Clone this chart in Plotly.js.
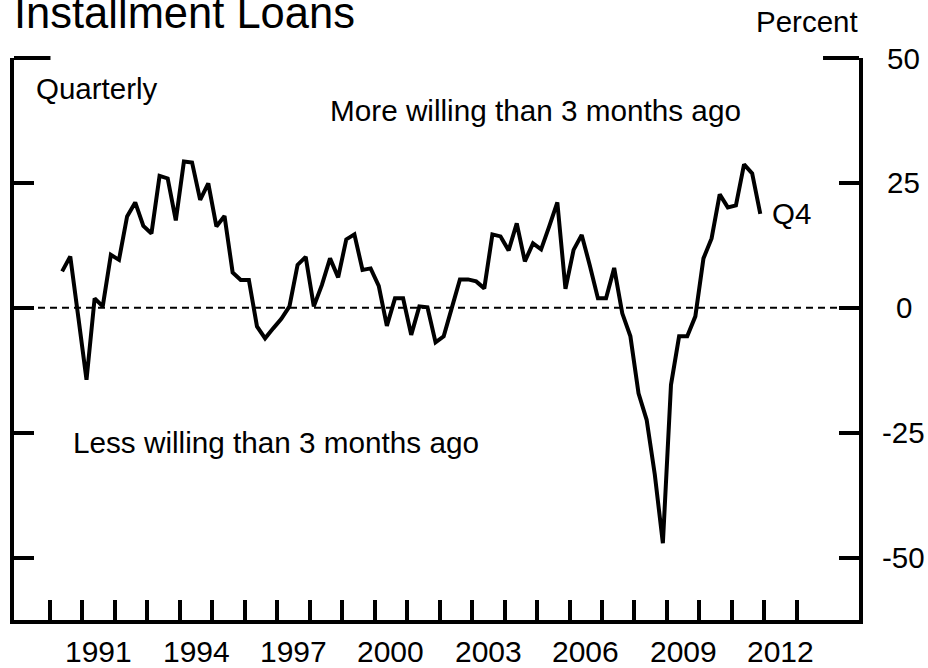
<!DOCTYPE html>
<html>
<head>
<meta charset="utf-8">
<script src="https://cdn.plot.ly/plotly-3.0.1.min.js"></script>
<style>
  html, body { margin: 0; padding: 0; background: #fff; }
  #chart { width: 928px; height: 668px; }
</style>
</head>
<body>
<div id="chart"></div>
<script>
// ---- Data ----
const quarters = [
  "1990Q2","1990Q3","1990Q4",
  "1991Q1","1991Q2","1991Q3","1991Q4",
  "1992Q1","1992Q2","1992Q3","1992Q4",
  "1993Q1","1993Q2","1993Q3","1993Q4",
  "1994Q1","1994Q2","1994Q3","1994Q4",
  "1995Q1","1995Q2","1995Q3","1995Q4",
  "1996Q1","1996Q2","1996Q3","1996Q4",
  "1997Q1","1997Q2","1997Q3","1997Q4",
  "1998Q1","1998Q2","1998Q3","1998Q4",
  "1999Q1","1999Q2","1999Q3","1999Q4",
  "2000Q1","2000Q2","2000Q3","2000Q4",
  "2001Q1","2001Q2","2001Q3","2001Q4",
  "2002Q1","2002Q2","2002Q3","2002Q4",
  "2003Q1","2003Q2","2003Q3","2003Q4",
  "2004Q1","2004Q2","2004Q3","2004Q4",
  "2005Q1","2005Q2","2005Q3","2005Q4",
  "2006Q1","2006Q2","2006Q3","2006Q4",
  "2007Q1","2007Q2","2007Q3","2007Q4",
  "2008Q1","2008Q2","2008Q3","2008Q4",
  "2009Q1","2009Q2","2009Q3","2009Q4",
  "2010Q1","2010Q2","2010Q3","2010Q4",
  "2011Q1","2011Q2","2011Q3","2011Q4"
];
const netPercent = [
  7.3, 10.3, -2.0,
  -14.4, 1.9, 0.3, 10.6,
  9.6, 18.3, 21.1, 16.4,
  14.9, 26.4, 25.9, 17.5,
  29.3, 29.1, 21.6, 24.9,
  16.3, 18.4, 7.1, 5.6,
  5.6, -3.7, -6.1, -4.1,
  -2.2, 0.3, 8.6, 10.2,
  0.3, 4.6, 9.9, 6.1,
  13.7, 14.7, 7.6, 7.9,
  4.4, -3.6, 1.9, 1.9,
  -5.4, 0.3, 0.1, -6.9,
  -5.7, 0.0, 5.7, 5.7,
  5.3, 3.9, 14.7, 14.3,
  11.5, 16.9, 9.3, 12.9,
  11.7, 16.3, 21.1, 3.8,
  11.6, 14.6, 8.5, 1.9,
  1.9, 8.0, -1.1, -5.7,
  -17.1, -22.4, -33.3, -47.1,
  -15.4, -5.7, -5.7, -1.7,
  9.9, 13.9, 22.7, 20.1,
  20.5, 28.7, 26.9, 18.8
];
const yearTicks = [1990,1991,1992,1993,1994,1995,1996,1997,1998,1999,2000,2001,
                   2002,2003,2004,2005,2006,2007,2008,2009,2010,2011,2012,2013];
const yearLabels = [1991,1994,1997,2000,2003,2006,2009,2012];
const yTicks = [-50,-25,0,25,50];

// ---- Build positions: mid-quarter decimal year ----
const xPos = quarters.map(q => {
  const yr = parseInt(q.slice(0,4), 10);
  const qn = parseInt(q.slice(5), 10);
  return yr + (qn - 1) / 4 + 0.125;
});

const FONT = "Liberation Sans, Arial, Helvetica, sans-serif";
const FS = 29.5;

// plot-area geometry (pixels)
const L = 13.5, R = 859, T = 58, B = 619.7;
const W = 928, H = 668;
const px = x => (x - L) / (R - L);
const py = y => (B - y) / (B - T);

const xRange = [1988.892, 2014.915];
const yRange = [-62.46, 50];

const traces = [{
  type: "scatter",
  mode: "lines",
  x: xPos,
  y: netPercent,
  line: { color: "#000", width: 4, simplify: false },
  hoverinfo: "skip",
  showlegend: false
}];

const annotations = [
  { text: "Quarterly", x: px(34), y: py(88), xanchor: "left", yanchor: "middle" },
  { text: "More willing than 3 months ago", x: px(328), y: py(110), xanchor: "left", yanchor: "middle", font: { family: FONT, size: 29.7, color: "#000" } },
  { text: "Less willing than 3 months ago", x: px(71), y: py(442), xanchor: "left", yanchor: "middle", font: { family: FONT, size: 29.7, color: "#000" } },
  { text: "Q4", x: px(770), y: py(213), xanchor: "left", yanchor: "middle" },
  { text: "Percent", x: px(807), y: py(22), xanchor: "center", yanchor: "middle" }
].map(a => Object.assign({ xref: "paper", yref: "paper", showarrow: false,
  font: { family: FONT, size: FS, color: "#000" } }, a));

// right-hand value labels, centred like the reference
yTicks.forEach(v => {
  annotations.push({
    text: String(v), x: px(904), xref: "paper", y: v, yref: "y",
    xanchor: "center", yanchor: "middle", showarrow: false,
    font: { family: FONT, size: FS, color: "#000" }
  });
});

// year labels centred within each year
yearLabels.forEach(yr => {
  annotations.push({
    text: String(yr), x: yr + 0.5, xref: "x", y: py(651), yref: "paper",
    xanchor: "center", yanchor: "middle", showarrow: false,
    font: { family: FONT, size: 30, color: "#000" }
  });
});

const layout = {
  width: W, height: H,
  margin: { l: L, r: W - R, t: T, b: H - B, pad: 0 },
  paper_bgcolor: "#fff",
  plot_bgcolor: "rgba(0,0,0,0)",
  showlegend: false,
  title: {
    text: "Installment Loans",
    font: { family: FONT, size: 43.5, color: "#000" },
    xref: "container", yref: "container",
    x: 14 / W, xanchor: "left",
    y: 1 - 13 / H, yanchor: "middle",
    pad: { t: 0, b: 0, l: 0, r: 0 }
  },
  xaxis: {
    range: xRange, type: "linear", fixedrange: true,
    tickmode: "array", tickvals: yearTicks,
    ticks: "inside", ticklen: 20, tickwidth: 4, tickcolor: "#000",
    showticklabels: false,
    showline: true, linewidth: 4, linecolor: "#000",
    showgrid: false, zeroline: false, mirror: false
  },
  yaxis: {
    range: yRange, type: "linear", fixedrange: true,
    tickmode: "array", tickvals: yTicks,
    ticks: "inside", ticklen: 20, tickwidth: 4, tickcolor: "#000",
    showticklabels: false,
    showline: true, linewidth: 4, linecolor: "#000",
    mirror: "ticks",
    showgrid: false, zeroline: false
  },
  shapes: [
    { type: "line", xref: "paper", yref: "y", x0: 0, x1: 1, y0: 0, y1: 0,
      line: { color: "#000", width: 2, dash: "7px,5px" }, layer: "below" },
    { type: "line", xref: "paper", yref: "paper", x0: 0, x1: px(50), y0: 1, y1: 1,
      line: { color: "#000", width: 4 } },
    { type: "line", xref: "paper", yref: "paper", x0: px(823), x1: 1, y0: 1, y1: 1,
      line: { color: "#000", width: 4 } }
  ],
  annotations: annotations
};

Plotly.newPlot("chart", traces, layout, { staticPlot: true, displayModeBar: false });
</script>
</body>
</html>
